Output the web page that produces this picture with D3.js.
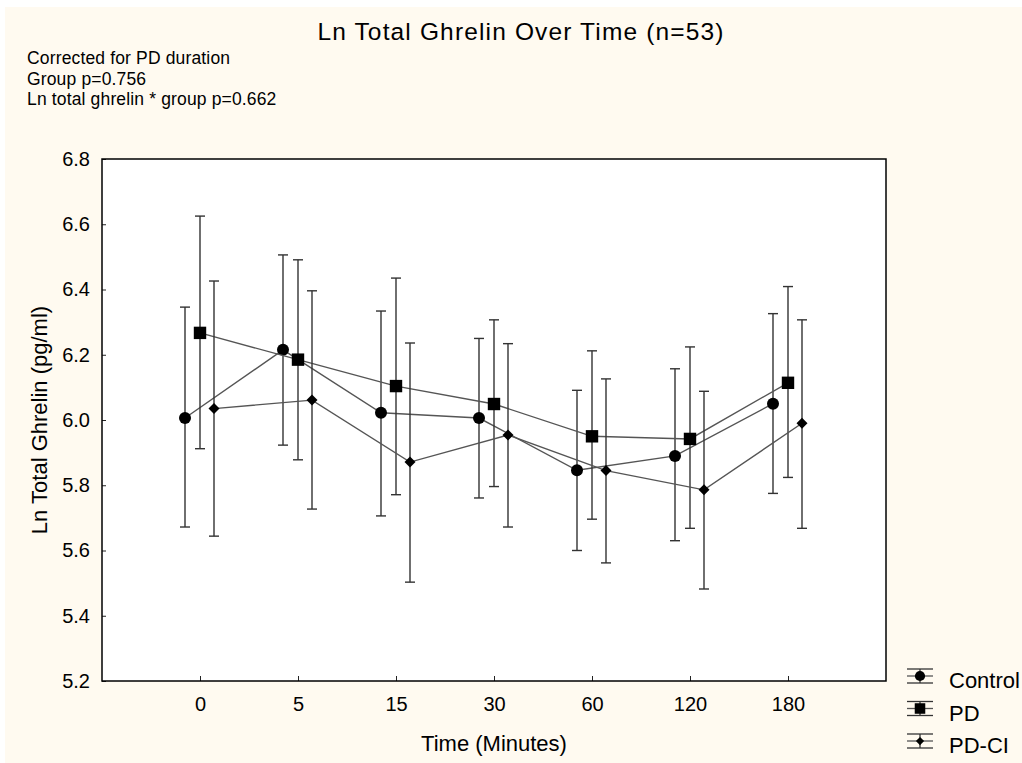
<!DOCTYPE html>
<html>
<head>
  <meta charset="utf-8">
  <title>Ln Total Ghrelin Over Time</title>
  <script type="text/javascript" src="https://cdn.jsdelivr.net/npm/d3@7"></script>
  <style>
    body {
      margin: 0;
      background: #ffffff;
    }
    text {
      font-family: "Liberation Sans", Arial, sans-serif;
      fill: #000;
    }
  </style>
</head>
<body>
  <svg id="chart"></svg>
  <script>
    // time points (categorical x axis)
    var times = ["0", "5", "15", "30", "60", "120", "180"];
    var yTicks = [5.2, 5.4, 5.6, 5.8, 6.0, 6.2, 6.4, 6.6, 6.8];

    // Control
    var controlMean = [6.006, 6.215, 6.022, 6.006, 5.846, 5.890, 6.050];
    var controlLo   = [5.672, 5.923, 5.706, 5.761, 5.600, 5.630, 5.775];
    var controlHi   = [6.346, 6.506, 6.334, 6.250, 6.091, 6.157, 6.326];

    // PD
    var pdMean = [6.267, 6.185, 6.104, 6.049, 5.950, 5.942, 6.114];
    var pdLo   = [5.912, 5.878, 5.771, 5.796, 5.696, 5.668, 5.824];
    var pdHi   = [6.625, 6.491, 6.435, 6.307, 6.212, 6.224, 6.409];

    // PD-CI
    var pdciMean = [6.035, 6.061, 5.871, 5.954, 5.845, 5.786, 5.990];
    var pdciLo   = [5.644, 5.727, 5.503, 5.672, 5.562, 5.482, 5.668];
    var pdciHi   = [6.426, 6.396, 6.236, 6.234, 6.126, 6.088, 6.307];

    var notes = ["Corrected for PD duration", "Group p=0.756", "Ln total ghrelin * group p=0.662"];

    var width = 1022, height = 763;
    var plot = {left: 102, right: 886, top: 159, bottom: 681};

    var svg = d3.select("#chart")
      .attr("width", width)
      .attr("height", height);

    // cream page background (thin white strip top/left like the original export)
    svg.append("rect")
      .attr("x", 5).attr("y", 7)
      .attr("width", width - 5).attr("height", height - 7)
      .attr("fill", "#fffaf0");

    svg.append("rect")
      .attr("x", plot.left).attr("y", plot.top)
      .attr("width", plot.right - plot.left).attr("height", plot.bottom - plot.top)
      .attr("fill", "#fff");

    var x = d3.scalePoint().domain(times).range([plot.left, plot.right]).padding(1);
    var y = d3.scaleLinear().domain([5.2, 6.8]).range([plot.bottom, plot.top]);

    var series = [
      {name: "Control", mean: controlMean, lo: controlLo, hi: controlHi, shape: "circle", dx: -15},
      {name: "PD",      mean: pdMean,      lo: pdLo,      hi: pdHi,      shape: "square", dx: 0},
      {name: "PD-CI",   mean: pdciMean,    lo: pdciLo,    hi: pdciHi,    shape: "diamond", dx: 14}
    ];

    function marker(g, shape) {
      if (shape == "circle")
        g.append("circle").attr("r", 6);
      else if (shape == "square")
        g.append("rect").attr("x", -6.2).attr("y", -6.2).attr("width", 12.4).attr("height", 12.4);
      else
        g.append("path").attr("d", "M0,-5.5L5.5,0L0,5.5L-5.5,0Z");
      g.selectAll("*").attr("fill", "#000");
    }

    // axes
    var yAxis = svg.append("g")
      .attr("transform", "translate(" + plot.left + ",0)")
      .call(d3.axisLeft(y).tickValues(yTicks).tickFormat(d3.format(".1f")).tickSize(-4).tickPadding(12));
    var xAxis = svg.append("g")
      .attr("transform", "translate(0," + plot.bottom + ")")
      .call(d3.axisBottom(x).tickSize(-5).tickPadding(16));
    [xAxis, yAxis].forEach(function(a) {
      a.select(".domain").remove();
      a.selectAll("line").attr("stroke", "#222").attr("stroke-width", 1);
      a.selectAll("text").style("font-size", "20px").attr("fill", "#000");
    });

    svg.append("rect")
      .attr("x", plot.left).attr("y", plot.top)
      .attr("width", plot.right - plot.left).attr("height", plot.bottom - plot.top)
      .attr("fill", "none").attr("stroke", "#000").attr("stroke-width", 1.5);

    var line = d3.line();

    series.forEach(function(s) {
      var g = svg.append("g");
      var pts = times.map(function(t, i) { return [x(t) + s.dx, y(s.mean[i])]; });
      g.append("path")
        .attr("d", line(pts))
        .attr("fill", "none")
        .attr("stroke", "#555")
        .attr("stroke-width", 1.4);

      times.forEach(function(t, i) {
        var cx = x(t) + s.dx;
        g.append("line")
          .attr("x1", cx).attr("x2", cx)
          .attr("y1", y(s.lo[i])).attr("y2", y(s.hi[i]))
          .attr("stroke", "#333").attr("stroke-width", 1.4);
        [s.lo[i], s.hi[i]].forEach(function(v) {
          g.append("line")
            .attr("x1", cx - 5).attr("x2", cx + 5)
            .attr("y1", y(v)).attr("y2", y(v))
            .attr("stroke", "#333").attr("stroke-width", 1.4);
        });
      });

      times.forEach(function(t, i) {
        var m = g.append("g").attr("transform", "translate(" + (x(t) + s.dx) + "," + y(s.mean[i]) + ")");
        marker(m, s.shape);
      });
    });

    // title and notes
    svg.append("text")
      .attr("x", 521).attr("y", 40)
      .attr("text-anchor", "middle")
      .style("font-size", "24.5px")
      .style("letter-spacing", "1.15px")
      .text("Ln Total Ghrelin Over Time (n=53)");

    svg.selectAll("text.note").data(notes).enter()
      .append("text")
      .attr("class", "note")
      .attr("x", 27)
      .attr("y", function(d, i) { return 64 + i * 20.5; })
      .style("font-size", "17.5px")
      .style("letter-spacing", "0.15px")
      .text(function(d) { return d; });

    svg.append("text")
      .attr("x", (plot.left + plot.right) / 2).attr("y", 751)
      .attr("text-anchor", "middle")
      .style("font-size", "22px")
      .text("Time (Minutes)");

    svg.append("text")
      .attr("transform", "translate(47," + (plot.top + plot.bottom) / 2 + ") rotate(-90)")
      .attr("text-anchor", "middle")
      .style("font-size", "22px")
      .text("Ln Total Ghrelin (pg/ml)");

    // legend
    var legend = svg.append("g");
    series.forEach(function(s, i) {
      var cy = 676 + i * 32.5;
      var lg = legend.append("g").attr("transform", "translate(920," + cy + ")");
      [-7, 0, 7].forEach(function(dy) {
        lg.append("line")
          .attr("x1", -13).attr("x2", 13).attr("y1", dy).attr("y2", dy)
          .attr("stroke", dy == 0 ? "#555" : "#333").attr("stroke-width", 1.3);
      });
      lg.append("line")
        .attr("x1", 0).attr("x2", 0).attr("y1", -7).attr("y2", 7)
        .attr("stroke", "#333").attr("stroke-width", 1.3);
      var m = lg.append("g").attr("transform", s.shape == "diamond" ? "scale(0.75)" : "scale(0.85)");
      marker(m, s.shape);
      legend.append("text")
        .attr("x", 949).attr("y", cy + 12)
        .style("font-size", "22px")
        .text(s.name);
    });
  </script>
</body>
</html>
